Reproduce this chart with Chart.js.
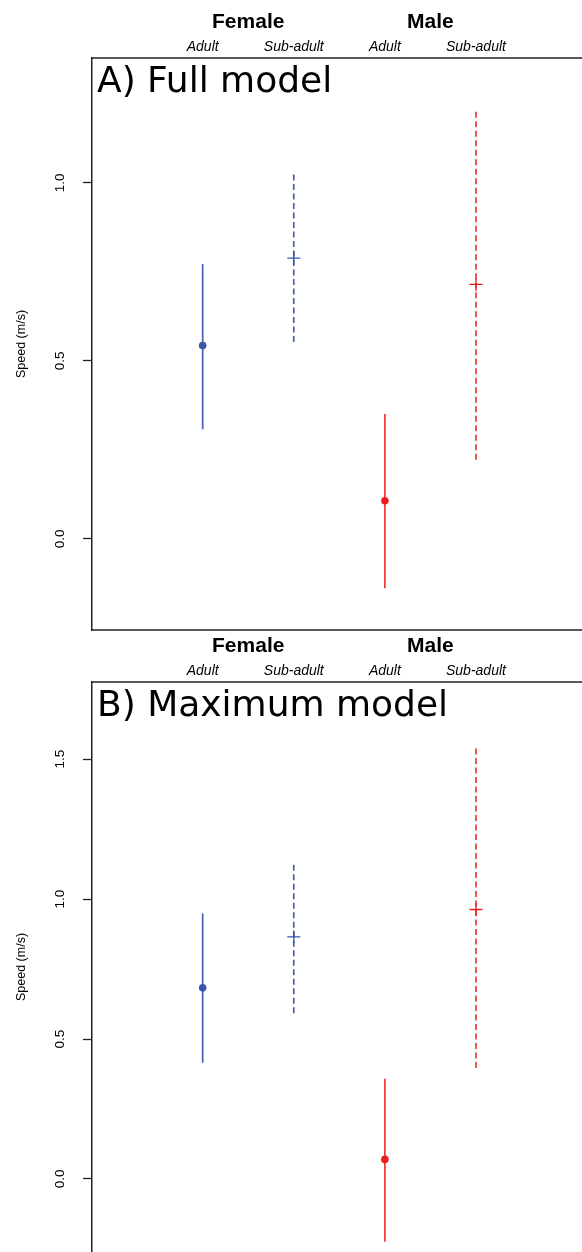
<!DOCTYPE html>
<html>
<head>
<meta charset="utf-8">
<script src="https://cdn.jsdelivr.net/npm/chart.js@4.4.1/dist/chart.umd.min.js"></script>
<style>
  html, body { margin: 0; padding: 0; background: #fff; overflow: hidden; }
  canvas { display: block; }
</style>
</head>
<body>
<canvas id="panelA" width="582" height="632"></canvas>
<canvas id="panelB" width="582" height="620"></canvas>
<script>
// groups along the x axis (positions 1..4)
const sexes = ['Female', 'Male'];
const ages = ['Adult', 'Sub-adult', 'Adult', 'Sub-adult'];

// A) Full model: estimate and interval
const fullEst = [0.543, 0.789, 0.107, 0.715];
const fullLo = [0.308, 0.553, -0.139, 0.222];
const fullHi = [0.772, 1.025, 0.351, 1.205];

// B) Maximum model
const maxEst = [0.683, 0.865, 0.070, 0.963];
const maxLo = [0.415, 0.592, -0.224, 0.397];
const maxHi = [0.949, 1.128, 0.358, 1.550];

const ticksA = [0, 0.5, 1.0];
const ticksB = [0, 0.5, 1.0, 1.5];

const BLUE = '#3A54A8';
const BLUE_LINE = '#4760B4';
const RED = '#EE1E1E';
const RED_LINE = '#F33636';

Chart.defaults.font.family = '"Liberation Sans", Arial, sans-serif';
Chart.defaults.color = '#000';

function colourFor(i, line) {
    if (i < 2) return line ? BLUE_LINE : BLUE;
    return line ? RED_LINE : RED;
}

// box, panel title and the group labels above the plot
const decorations = {
    id: 'decorations',
    afterDraw(chart, args, opts) {
        const {ctx, chartArea} = chart;
        const xs = chart.scales.x;
        ctx.save();
        ctx.strokeStyle = '#222';
        ctx.lineWidth = 1.5;
        ctx.beginPath();
        ctx.moveTo(chartArea.left, chartArea.top);
        ctx.lineTo(chart.width + 5, chartArea.top);
        if (opts.bottom) {
            ctx.moveTo(chartArea.left, chartArea.bottom);
            ctx.lineTo(chart.width + 5, chartArea.bottom);
        }
        ctx.stroke();

        ctx.fillStyle = '#000';
        ctx.textAlign = 'left';
        ctx.textBaseline = 'alphabetic';
        ctx.font = '36px "DejaVu Sans", Verdana, sans-serif';
        ctx.fillText(opts.title, chartArea.left + 5, chartArea.top + 34);

        ctx.textAlign = 'center';
        ctx.textBaseline = 'middle';
        ctx.font = 'bold 21px "Liberation Sans", Arial, sans-serif';
        sexes.forEach((s, k) => {
            ctx.fillText(s, xs.getPixelForValue(2 * k + 1.5), chartArea.top - 36);
        });
        ctx.font = 'italic 14px "Liberation Sans", Arial, sans-serif';
        ages.forEach((a, i) => {
            ctx.fillText(a, xs.getPixelForValue(i + 1), chartArea.top - 11);
        });
        ctx.restore();
    }
};

function makePanel(id, est, lo, hi, yMin, yMax, yTicks, title, padTop, padBottom, bottom) {
    const datasets = [];
    est.forEach((v, i) => {
        const sub = ages[i] === 'Sub-adult';
        datasets.push({
            type: 'scatter',
            data: [{x: i + 1, y: v}],
            order: 0,
            pointStyle: sub ? 'cross' : 'circle',
            pointRadius: sub ? 6.5 : 3.8,
            pointBorderWidth: sub ? 1.3 : 0,
            pointBackgroundColor: colourFor(i, false),
            pointBorderColor: colourFor(i, false)
        });
        datasets.push({
            type: 'line',
            data: [{x: i + 1, y: lo[i]}, {x: i + 1, y: hi[i]}],
            order: 1,
            borderColor: colourFor(i, true),
            borderWidth: 1.7,
            borderDash: sub ? [6, 3.5] : [],
            pointRadius: 0,
            fill: false
        });
    });

    return new Chart(document.getElementById(id), {
        type: 'scatter',
        data: {datasets},
        options: {
            responsive: false,
            animation: false,
            devicePixelRatio: 1,
            layout: {
                autoPadding: false,
                padding: {top: padTop, bottom: padBottom, left: 0, right: 0}
            },
            plugins: {
                legend: {display: false},
                tooltip: {enabled: false},
                decorations: {title, bottom}
            },
            scales: {
                x: {
                    type: 'linear',
                    display: false,
                    min: -0.215,
                    max: 5.164
                },
                y: {
                    min: yMin,
                    max: yMax,
                    afterFit(scale) {
                        scale.width = 92;
                        scale.paddingTop = 0;
                        scale.paddingBottom = 0;
                        scale.paddingLeft = 0;
                        scale.paddingRight = 0;
                    },
                    afterBuildTicks(scale) {
                        scale.ticks = yTicks.map(v => ({value: v}));
                    },
                    border: {display: true, color: '#222', width: 1.5},
                    grid: {
                        drawOnChartArea: false,
                        drawTicks: true,
                        tickLength: 9,
                        tickColor: '#222',
                        tickWidth: 1.3
                    },
                    ticks: {
                        minRotation: 90,
                        maxRotation: 90,
                        crossAlign: 'center',
                        padding: 13,
                        font: {size: 13.5},
                        color: '#000',
                        callback: v => v.toFixed(1)
                    },
                    title: {
                        display: true,
                        text: 'Speed (m/s)',
                        font: {size: 12.5},
                        color: '#000',
                        padding: {top: 14, bottom: 0}
                    }
                }
            }
        },
        plugins: [decorations]
    });
}

makePanel('panelA', fullEst, fullLo, fullHi, -0.256, 1.351, ticksA,
    'A) Full model', 58, 2, true);
makePanel('panelB', maxEst, maxLo, maxHi, -0.261, 1.776, ticksB,
    'B) Maximum model', 50, 0, false);
</script>
</body>
</html>
